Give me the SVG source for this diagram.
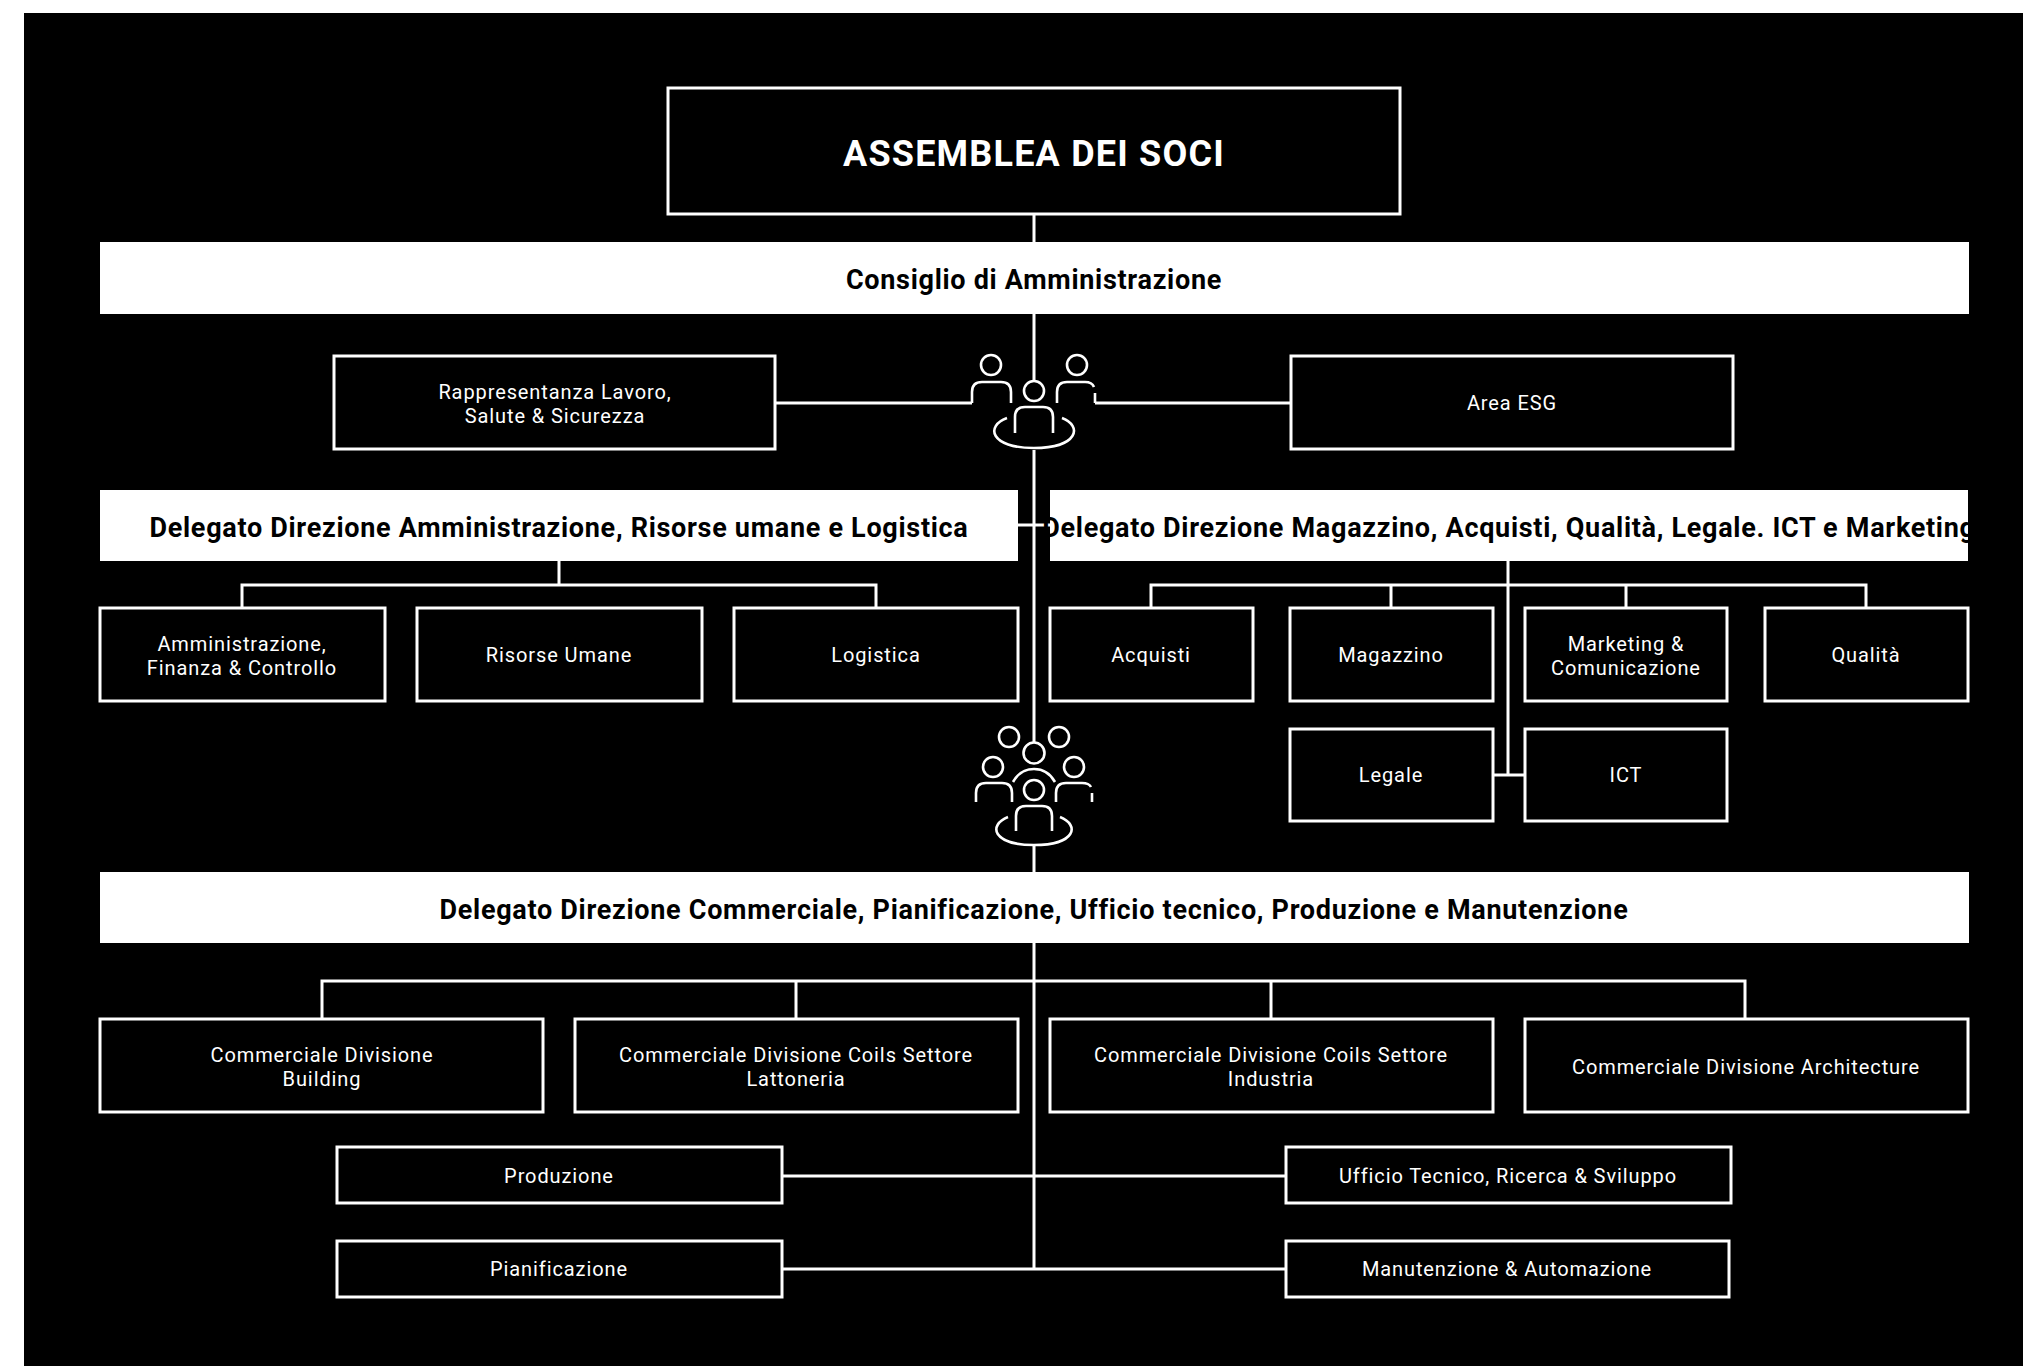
<svg xmlns="http://www.w3.org/2000/svg" width="2023" height="1366" viewBox="0 0 2023 1366">
<style>
.b{fill:#000;stroke:#fff;stroke-width:3}
.w{fill:#fff}
.l{fill:none;stroke:#fff;stroke-width:3}
.i{fill:none;stroke:#fff;stroke-width:2.6}
text{font-family:"Roboto","Liberation Sans",sans-serif;text-anchor:middle}
.t{fill:#fff;font-size:20px;letter-spacing:.9px}
.h{fill:#000;font-size:27px;font-weight:700;letter-spacing:.7px}
.a{fill:#fff;font-size:36px;font-weight:700;letter-spacing:1.2px}
</style>
<rect width="2023" height="1366" fill="#fff"/>
<rect x="24" y="13" width="1999" height="1353" fill="#000"/>
<g id="connectors" class="l">
<path d="M1034 187V242M1034 314V381M1034 450V742M1018 525H1050"/>
<path d="M775 403H972M1095 403H1291"/>
<path d="M559 561V585M242 608V585H876V608"/>
<path d="M1508 561V775M1151 608V585H1866V608M1391 585V608M1626 585V608M1493 775H1525"/>
<path d="M1034 845V872M1034 943V1269M322 1019V981H1745V1019M796 981V1019M1271 981V1019"/>
<path d="M782 1176H1286M782 1269H1286"/>
</g>
<g id="assemblea"><rect class="b" x="668" y="88" width="732" height="126"/><text class="a" x="1034" y="166">ASSEMBLEA DEI SOCI</text></g>
<g id="cda"><rect class="w" x="100" y="242" width="1869" height="72"/><text class="h" x="1034" y="289">Consiglio di Amministrazione</text></g>
<g id="rappresentanza"><rect class="b" x="334" y="356" width="441" height="93"/><text class="t" x="555" y="399">Rappresentanza Lavoro,</text><text class="t" x="555" y="423">Salute &amp; Sicurezza</text></g>
<g id="esg"><rect class="b" x="1291" y="356" width="442" height="93"/><text class="t" x="1512" y="410">Area ESG</text></g>
<g id="icon1" class="i">
<circle cx="991" cy="365" r="10"/><circle cx="1077" cy="365" r="10"/><circle cx="1034" cy="391" r="10"/>
<path d="M972 403V392Q972 382 982 382H1001Q1011 382 1011 392V403"/>
<path d="M1057 403V392Q1057 382 1067 382H1085Q1092 382 1094 387M1095 393V403"/>
<path d="M1015 433V417Q1015 407 1025 407H1043Q1053 407 1053 417V433"/>
<path d="M1007 418C985 426 990 448 1034 448C1078 448 1083 426 1062 418"/>
</g>
<g id="delegato-amm"><rect class="w" x="100" y="490" width="918" height="71"/><text class="h" x="559" y="537">Delegato Direzione Amministrazione, Risorse umane e Logistica</text></g>
<g id="delegato-mag"><rect class="w" x="1050" y="490" width="918" height="71"/><text class="h" x="1509" y="537">Delegato Direzione Magazzino, Acquisti, Qualità, Legale. ICT e Marketing</text></g>
<g id="afc"><rect class="b" x="100" y="608" width="285" height="93"/><text class="t" x="242" y="651">Amministrazione,</text><text class="t" x="242" y="675">Finanza &amp; Controllo</text></g>
<g id="hr"><rect class="b" x="417" y="608" width="285" height="93"/><text class="t" x="559" y="662">Risorse Umane</text></g>
<g id="logistica"><rect class="b" x="734" y="608" width="284" height="93"/><text class="t" x="876" y="662">Logistica</text></g>
<g id="acquisti"><rect class="b" x="1050" y="608" width="203" height="93"/><text class="t" x="1151" y="662">Acquisti</text></g>
<g id="magazzino"><rect class="b" x="1290" y="608" width="203" height="93"/><text class="t" x="1391" y="662">Magazzino</text></g>
<g id="marketing"><rect class="b" x="1525" y="608" width="202" height="93"/><text class="t" x="1626" y="651">Marketing &amp;</text><text class="t" x="1626" y="675">Comunicazione</text></g>
<g id="qualita"><rect class="b" x="1765" y="608" width="203" height="93"/><text class="t" x="1866" y="662">Qualità</text></g>
<g id="legale"><rect class="b" x="1290" y="729" width="203" height="92"/><text class="t" x="1391" y="782">Legale</text></g>
<g id="ict"><rect class="b" x="1525" y="729" width="202" height="92"/><text class="t" x="1626" y="782">ICT</text></g>
<g id="icon2" class="i">
<circle cx="1009" cy="737" r="10"/><circle cx="1059" cy="737" r="10"/><circle cx="1034" cy="753" r="10.5"/>
<circle cx="993" cy="767" r="10"/><circle cx="1074" cy="767" r="10"/><circle cx="1034" cy="790" r="10"/>
<path d="M1013 782C1018 773 1026 769 1034 769C1042 769 1050 773 1055 782"/>
<path d="M976 802V793Q976 783 986 783H1002Q1012 783 1012 793V802"/>
<path d="M1056 802V793Q1056 783 1066 783H1082Q1089 783 1091 787M1092 793V802"/>
<path d="M1016 831V816Q1016 806 1026 806H1042Q1052 806 1052 816V831"/>
<path d="M1008 817C988 825 992 845 1034 845C1076 845 1080 825 1060 817"/>
</g>
<g id="delegato-comm"><rect class="w" x="100" y="872" width="1869" height="71"/><text class="h" x="1034" y="919">Delegato Direzione Commerciale, Pianificazione, Ufficio tecnico, Produzione e Manutenzione</text></g>
<g id="c1"><rect class="b" x="100" y="1019" width="443" height="93"/><text class="t" x="322" y="1062">Commerciale Divisione</text><text class="t" x="322" y="1086">Building</text></g>
<g id="c2"><rect class="b" x="575" y="1019" width="443" height="93"/><text class="t" x="796" y="1062">Commerciale Divisione Coils Settore</text><text class="t" x="796" y="1086">Lattoneria</text></g>
<g id="c3"><rect class="b" x="1050" y="1019" width="443" height="93"/><text class="t" x="1271" y="1062">Commerciale Divisione Coils Settore</text><text class="t" x="1271" y="1086">Industria</text></g>
<g id="c4"><rect class="b" x="1525" y="1019" width="443" height="93"/><text class="t" x="1746" y="1074">Commerciale Divisione Architecture</text></g>
<g id="produzione"><rect class="b" x="337" y="1147" width="445" height="56"/><text class="t" x="559" y="1183">Produzione</text></g>
<g id="ufficio"><rect class="b" x="1286" y="1147" width="445" height="56"/><text class="t" x="1508" y="1183">Ufficio Tecnico, Ricerca &amp; Sviluppo</text></g>
<g id="pianificazione"><rect class="b" x="337" y="1241" width="445" height="56"/><text class="t" x="559" y="1276">Pianificazione</text></g>
<g id="manutenzione"><rect class="b" x="1286" y="1241" width="443" height="56"/><text class="t" x="1507" y="1276">Manutenzione &amp; Automazione</text></g>
</svg>
